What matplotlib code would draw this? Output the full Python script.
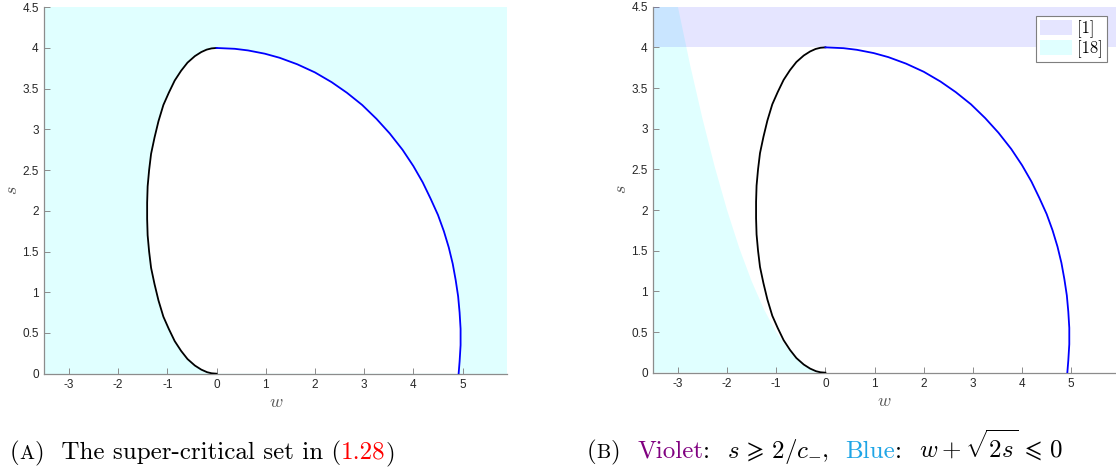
import matplotlib
matplotlib.use("Agg")
import matplotlib.pyplot as plt
from matplotlib.offsetbox import TextArea, HPacker, AnchoredOffsetbox

plt.rcParams['mathtext.fontset'] = 'cm'
plt.rcParams['axes.unicode_minus'] = False

# curve: black (left) branch, from (0,4) down to (0,0)
black_w = [0, -0.1, -0.2, -0.31, -0.44, -0.59, -0.72, -0.85, -0.97, -1.08, -1.18, -1.26,
           -1.33, -1.37, -1.4, -1.41, -1.41, -1.4, -1.37, -1.33, -1.26, -1.18, -1.08,
           -0.97, -0.85, -0.72, -0.59, -0.44, -0.31, -0.19, -0.1, 0]
black_s = [4, 3.995, 3.98, 3.95, 3.9, 3.82, 3.72, 3.6, 3.45, 3.3, 3.1, 2.9,
           2.7, 2.5, 2.3, 2.1, 1.9, 1.7, 1.5, 1.3, 1.1, 0.9, 0.7,
           0.55, 0.4, 0.28, 0.18, 0.1, 0.05, 0.018, 0.005, 0]

# blue (right) branch, from (0,4) down to the w axis
blue_w = [0, 0.37, 0.64, 0.98, 1.28, 1.64, 2.0, 2.34, 2.65, 2.96, 3.25, 3.52, 3.78,
          4.0, 4.19, 4.35, 4.5, 4.62, 4.72, 4.8, 4.86, 4.91, 4.94, 4.96, 4.96, 4.94, 4.92]
blue_s = [4, 3.99, 3.97, 3.93, 3.88, 3.8, 3.7, 3.58, 3.45, 3.3, 3.13, 2.95, 2.75,
          2.55, 2.35, 2.15, 1.95, 1.75, 1.55, 1.35, 1.15, 0.95, 0.75, 0.55, 0.35, 0.15, 0]

# edge of the cyan set in (B)
edge_w = [0, -0.25, -0.5, -0.75, -1.0, -1.25, -1.5, -1.75, -2.0, -2.25, -2.5, -2.75, -3.0]
edge_s = [0, 0.031, 0.125, 0.28, 0.5, 0.78, 1.125, 1.53, 2.0, 2.53, 3.125, 3.78, 4.5]

violet_band = (4, 4.5)

x_ticks = [-3, -2, -1, 0, 1, 2, 3, 4, 5]
y_ticks = [0, 0.5, 1, 1.5, 2, 2.5, 3, 3.5, 4, 4.5]
y_labels = ['0', '0.5', '1', '1.5', '2', '2.5', '3', '3.5', '4', '4.5']

cyan_fill = (0, 1, 1, 0.12)
violet_fill = (0, 0, 1, 0.1)
axis_grey = '#8c8c8c'
label_grey = '#262626'


def style_axes(ax):
    ax.set_xlim(-3.5, 5.91)
    ax.set_ylim(0, 4.5)
    ax.set_xticks(x_ticks)
    ax.set_xticklabels([str(t) for t in x_ticks])
    ax.set_yticks(y_ticks)
    ax.set_yticklabels(y_labels)
    for side in ['top', 'right']:
        ax.spines[side].set_visible(False)
    for side in ['left', 'bottom']:
        ax.spines[side].set_color(axis_grey)
        ax.spines[side].set_linewidth(0.9)
    ax.tick_params(direction='in', length=4, width=0.7, color=axis_grey,
                   labelcolor=label_grey, labelsize=8.5, pad=4)
    for lab in ax.get_xticklabels() + ax.get_yticklabels():
        lab.set_family('Liberation Sans')
    ax.set_xlabel('$w$', fontsize=13, color='#555555', labelpad=1)
    ax.set_ylabel('$s$', fontsize=13, color='#555555', labelpad=1)


def draw_curves(ax):
    ax.plot(black_w, black_s, color='black', lw=1.3, zorder=3)
    ax.plot(blue_w, blue_s, color='blue', lw=1.3, zorder=3)


fig = plt.figure(figsize=(11.16, 4.75), dpi=100)

# (A)
ax1 = fig.add_axes([0.0397, 0.2133, 0.4149, 0.7714])
ax1.set_facecolor(cyan_fill)
inner_w = black_w + blue_w[::-1]
inner_s = black_s + blue_s[::-1]
ax1.fill(inner_w, inner_s, color='white', lw=0, zorder=1)
draw_curves(ax1)
style_axes(ax1)

# (B)
ax2 = fig.add_axes([0.5854, 0.2154, 0.4146, 0.7705])
poly_w = [-3.5] + edge_w + [-3.5]
poly_s = [0] + edge_s + [4.5]
cyan_patch = ax2.fill(poly_w, poly_s, color=cyan_fill, lw=0, zorder=1)[0]
violet_patch = ax2.axhspan(violet_band[0], violet_band[1], color=violet_fill, lw=0, zorder=2)
draw_curves(ax2)
style_axes(ax2)
leg = ax2.legend([violet_patch, cyan_patch], ['[1]', '[18]'], loc='upper right',
                 prop={'family': 'cmr10', 'size': 12}, fancybox=False,
                 edgecolor='#7f7f7f', framealpha=1, handlelength=1.9,
                 handleheight=1.0, borderpad=0.25, labelspacing=0.1,
                 handletextpad=0.3, borderaxespad=0.55)
leg.get_frame().set_linewidth(0.8)


# captions
def caption(pieces, x, y):
    boxes = []
    for text, color, size in pieces:
        boxes.append(TextArea(text, textprops=dict(color=color, fontsize=size, family='cmr10')))
    row = HPacker(children=boxes, align='baseline', pad=0, sep=0)
    box = AnchoredOffsetbox(loc='lower left', child=row, pad=0, borderpad=0, frameon=False,
                            bbox_to_anchor=(x, y), bbox_transform=fig.transFigure)
    fig.add_artist(box)


fs = 18
caption([('(', 'black', fs), ('A', 'black', fs * 0.8), (')  The super-critical set in (', 'black', fs),
         ('1.28', 'red', fs), (')', 'black', fs)], 0.009, 0.02)
caption([('(', 'black', fs), ('B', 'black', fs * 0.8), (')  ', 'black', fs),
         ('Violet', '#800080', fs), (':  ', 'black', fs), (r'$s\, \geqslant\, 2/c_{-}$', 'black', fs),
         (',  ', 'black', fs), ('Blue', '#1ea5e6', fs), (':  ', 'black', fs),
         (r'$w + \sqrt{2s}\, \leqslant\, 0$', 'black', fs)], 0.526, 0.02)

fig.savefig('out.png', dpi=100)
